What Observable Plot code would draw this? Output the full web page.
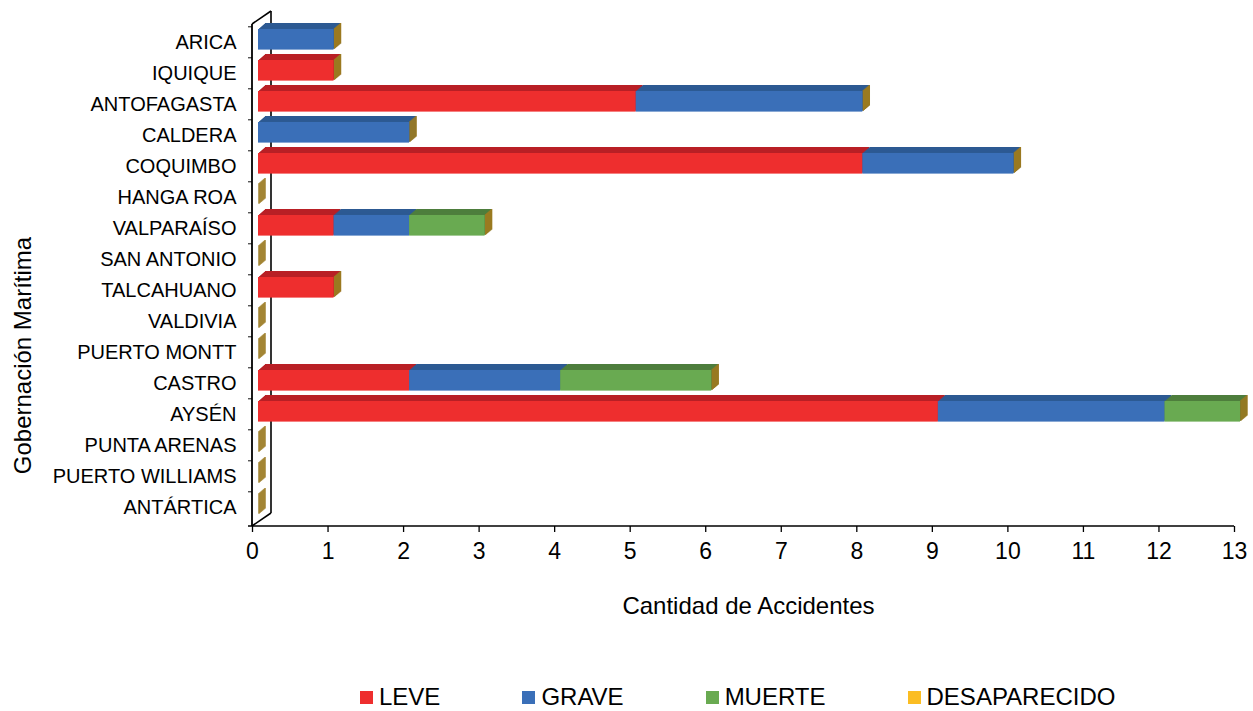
<!DOCTYPE html>
<html>
<head>
<meta charset="utf-8">
<script src="https://cdn.jsdelivr.net/npm/d3@7"></script>
<script src="https://cdn.jsdelivr.net/npm/@observablehq/plot@0.6"></script>
<style>
  html, body { margin: 0; padding: 0; background: #fff; }
  body { width: 1253px; height: 711px; position: relative; overflow: hidden; font-family: "Liberation Sans", Arial, sans-serif; }
  #chart { position: absolute; left: 0; top: 0; }
  #legend { position: absolute; left: 360px; top: 682px; display: flex; gap: 82px; font-size: 24px; line-height: 30px; color: #000; }
  #legend .item { display: flex; align-items: center; }
  #legend .sw { width: 13px; height: 13px; margin-right: 6px; }
</style>
</head>
<body>
<div id="chart"></div>
<div id="legend"></div>
<script>
// ---- Data ----
const categories = ["ARICA", "IQUIQUE", "ANTOFAGASTA", "CALDERA", "COQUIMBO", "HANGA ROA", "VALPARAÍSO", "SAN ANTONIO",
  "TALCAHUANO", "VALDIVIA", "PUERTO MONTT", "CASTRO", "AYSÉN", "PUNTA ARENAS", "PUERTO WILLIAMS", "ANTÁRTICA"];
const series = ["LEVE", "GRAVE", "MUERTE", "DESAPARECIDO"];
const leve         = [0, 1, 5, 0, 8, 0, 1, 0, 1, 0, 0, 2, 9, 0, 0, 0];
const grave        = [1, 0, 3, 2, 2, 0, 1, 0, 0, 0, 0, 2, 3, 0, 0, 0];
const muerte       = [0, 0, 0, 0, 0, 0, 1, 0, 0, 0, 0, 2, 1, 0, 0, 0];
const desaparecido = [0, 0, 0, 0, 0, 0, 0, 0, 0, 0, 0, 0, 0, 0, 0, 0];
const xTicks = [0, 1, 2, 3, 4, 5, 6, 7, 8, 9, 10, 11, 12, 13];
const xTitle = "Cantidad de Accidentes";
const yTitle = "Gobernación Marítima";

// ---- Styles ----
const frontColor = {LEVE: "#ee2e2e", GRAVE: "#3a6fb8", MUERTE: "#69aa51", DESAPARECIDO: "#fbbd22"};
const topColor   = {LEVE: "#b92026", GRAVE: "#2d5a93", MUERTE: "#4e7e3d", DESAPARECIDO: "#b08a1a"};
const sideColor = "#9b7a21";

// ---- Tables built from arrays ----
const seriesValues = [leve, grave, muerte, desaparecido];
const rows = [];
categories.forEach((c, i) => series.forEach((s, j) => rows.push({cat: c, serie: s, value: seriesValues[j][i]})));
const totals = categories.map((c, i) => ({cat: c, total: d3.sum(seriesValues, v => v[i])}));

const W = 1253, H = 640;
const mTop = 24, mBottom = H - 526, mLeft = 252, mRight = 19;
const band = (H - mBottom - mTop) / categories.length;
const inset = 5.2, frontDx = 6, frontDy = -3.2, depthX = 7, depthY = 6, steps = 7;
const wallDx = 19, wallDy = -13;

function wall(index, scales, values, dims) {
  const g = d3.create("svg:g").attr("stroke", "#000").attr("fill", "none");
  const x0 = scales.x(0);
  const top = dims.marginTop, bottom = dims.height - dims.marginBottom;
  g.append("line").attr("x1", x0).attr("x2", x0).attr("y1", top).attr("y2", bottom).attr("stroke-width", 1.8);
  g.append("line").attr("x1", x0 + wallDx).attr("x2", x0 + wallDx).attr("y1", top + wallDy).attr("y2", bottom + wallDy).attr("stroke-width", 1.6);
  for (const y of [top, bottom]) {
    g.append("line").attr("x1", x0).attr("y1", y).attr("x2", x0 + wallDx).attr("y2", y + wallDy).attr("stroke-width", 1.6);
  }
  return g.node();
}
function axisLine(index, scales, values, dims) {
  const g = d3.create("svg:g").attr("stroke", "#000").attr("fill", "none");
  const x0 = scales.x(0), x1 = scales.x(xTicks[xTicks.length - 1]);
  const bottom = dims.height - dims.marginBottom;
  g.append("line").attr("x1", x0 - 4).attr("x2", x1).attr("y1", bottom).attr("y2", bottom).attr("stroke-width", 1.6);
  return g.node();
}

const marks = [];
marks.push(wall);
// top faces (extrusion)
for (let k = steps; k >= 1; k--) {
  const dx = frontDx + k * depthX / steps, dy = frontDy - k * depthY / steps;
  marks.push(Plot.barX(rows, Plot.stackX({
    x: "value", y: "cat", z: "serie", order: series,
    fill: d => topColor[d.serie], dx, dy, insetTop: inset, insetBottom: inset
  })));
}
// side faces (extrusion of the bar end)
for (let k = steps; k >= 1; k--) {
  const dx = frontDx + k * depthX / steps, dy = frontDy - k * depthY / steps;
  marks.push(Plot.barX(totals, {x1: "total", x2: "total", y: "cat", dx: dx - 0.7, dy,
    insetTop: inset, insetBottom: inset, insetLeft: 0, insetRight: -1.4, fill: sideColor}));
}
// front faces
marks.push(Plot.barX(rows, Plot.stackX({
  x: "value", y: "cat", z: "serie", order: series,
  fill: d => frontColor[d.serie], dx: frontDx, dy: frontDy, insetTop: inset, insetBottom: inset
})));
// y boundary ticks (band tops)
marks.push(Plot.barX(categories, {x1: -0.053, x2: 0, y: d => d, insetTop: 0, insetBottom: band - 1.3, dy: -0.65, fill: "#000"}));
marks.push(axisLine);
marks.push(Plot.axisY({tickSize: 0, tickPadding: 16, fontSize: 20, label: null}));
marks.push(Plot.axisX({ticks: xTicks, tickSize: 6, tickPadding: 10, fontSize: 23, label: null, strokeWidth: 1.3}));
marks.push(Plot.text([xTitle], {text: d => d, frameAnchor: "bottom", dx: 5, dy: 87, fontSize: 24}));
marks.push(Plot.text([yTitle], {text: d => d, frameAnchor: "left", textAnchor: "middle", dx: -229, dy: 80, rotate: -90, fontSize: 24}));

const chart = Plot.plot({
  width: W, height: H,
  marginTop: mTop, marginBottom: mBottom, marginLeft: mLeft, marginRight: mRight,
  x: {domain: [0, 13]},
  y: {domain: categories, padding: 0},
  color: {type: "identity"},
  style: {fontFamily: "'Liberation Sans', Arial, sans-serif", background: "#fff", color: "#000", overflow: "visible"},
  marks
});
document.getElementById("chart").appendChild(chart);

// ---- Legend ----
const legend = document.getElementById("legend");
for (const s of series) {
  const item = document.createElement("div");
  item.className = "item";
  const sw = document.createElement("span");
  sw.className = "sw";
  sw.style.background = frontColor[s];
  const t = document.createElement("span");
  t.textContent = s;
  item.append(sw, t);
  legend.append(item);
}
</script>
</body>
</html>
